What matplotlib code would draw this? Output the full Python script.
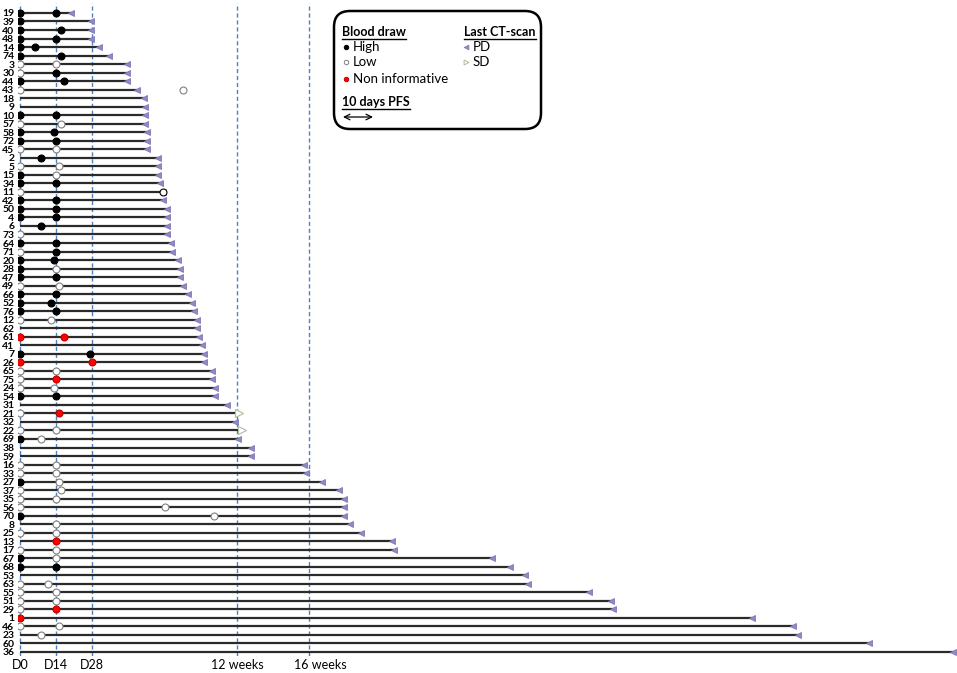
import numpy as np
import matplotlib
matplotlib.use("Agg")
import matplotlib.pyplot as plt
from matplotlib.patches import FancyBboxPatch

plt.rcParams['font.family'] = ['Lato', 'DejaVu Sans']

# patients, top to bottom
patients = [19, 39, 40, 48, 14, 74, 3, 30, 44, 43, 18, 9, 10, 57, 58, 72, 45, 2, 5, 15,
            34, 11, 42, 50, 4, 6, 73, 64, 71, 20, 28, 47, 49, 66, 52, 76, 12, 62, 61, 41,
            7, 26, 65, 75, 24, 54, 31, 21, 32, 22, 69, 38, 59, 16, 33, 27, 37, 35, 56, 70,
            8, 25, 13, 17, 67, 68, 53, 63, 55, 51, 29, 1, 46, 23, 60, 36]

# days until last CT-scan
pfs_days = [19.6, 27.5, 27.5, 27.5, 30.6, 34.5, 41.5, 41.5, 41.5, 45.3, 48, 48.4, 48.4, 48.4,
            49.2, 49.2, 49.2, 53.5, 53.5, 53.5, 54.3, 55.4, 55.4, 57, 57, 57, 57, 58.5, 59,
            61.2, 62, 62, 63.2, 65, 66.7, 67.4, 68.6, 68.6, 69.4, 70.5, 71.3, 71.3, 74.4, 74.4,
            75.6, 75.6, 80.2, 84.9, 83.3, 86, 84.5, 89.5, 89.5, 110, 110.5, 116.7, 123.6,
            125.2, 125.2, 125.2, 127.5, 131.8, 143.8, 144.6, 182.6, 189.5, 195.3, 196.5,
            220, 228.7, 229.5, 283.3, 299.2, 301, 328.3, 361]

ct_status = ['PD'] * len(patients)
ct_status[patients.index(21)] = 'SD'
ct_status[patients.index(22)] = 'SD'

# blood draw at D0: H high, L low, N non informative, '' none
d0_status = ['H', 'H', 'H', 'H', 'H', 'H', 'L', 'L', 'H', 'L', '', '', 'H', 'L', 'H', 'H', 'L', '', 'L', 'H',
             'H', 'L', 'H', 'H', 'H', '', 'L', 'H', 'L', 'H', 'H', 'H', 'L', 'H', 'H', 'H', 'L', '', 'N', '',
             'H', 'N', 'L', 'L', 'L', 'H', '', 'L', '', 'L', 'H', '', '', 'L', 'L', 'H', 'L', 'L', 'L', 'H',
             '', 'L', '', 'L', 'H', 'H', '', 'L', 'L', 'L', 'L', 'N', 'L', '', '', '']

# second blood draw
nan = np.nan
d2_day = [14, nan, 16, 14, 6, 16, 14, 14, 17, 63, nan, nan, 14, 16, 13, 14, 14, 8, 15, 14,
          14, 55.4, 14, 14, 14, 8, nan, 14, 14, 13, 14, 14, 15, 14, 12, 14, 12, nan, 17, nan,
          27, 28, 14, 14, 13, 14, nan, 15, nan, 14, 8, nan, nan, 14, 14, 15, 16, 14, 56, 75,
          14, 14, 14, 14, 14, 14, nan, 11, 14, 14, 14, nan, 15, 8, nan, nan]
d2_status = ['H', '', 'H', 'H', 'H', 'H', 'L', 'H', 'H', 'L', '', '', 'H', 'L', 'H', 'H', 'L', 'H', 'L', 'L',
             'H', 'L', 'H', 'H', 'H', 'H', '', 'H', 'H', 'H', 'L', 'H', 'L', 'H', 'H', 'H', 'L', '', 'N', '',
             'H', 'N', 'L', 'N', 'L', 'H', '', 'N', '', 'L', 'L', '', '', 'L', 'L', 'L', 'L', 'L', 'L', 'L',
             'L', 'L', 'N', 'L', 'L', 'H', '', 'L', 'L', 'L', 'N', '', 'L', 'L', '', '']

ref_days = [0, 14, 28, 84, 112]
tick_pos = [0, 14, 28, 84, 116]
tick_labels = ['D0', 'D14', 'D28', '12 weeks', '16 weeks']

marker_style = {
    'H': dict(color='black', markeredgecolor='black'),
    'L': dict(color='white', markeredgecolor='#808080'),
    'N': dict(color='#ff0000', markeredgecolor='#c00000'),
}

W, H = 957, 673
fig = plt.figure(figsize=(W / 100, H / 100), dpi=100)
ax = fig.add_axes([18 / W, (H - 656) / H, (W - 18) / W, 653 / H])

y = np.arange(len(patients))
ax.hlines(y, 0, pfs_days, color='#2b2b2b', lw=1.6, zorder=2)

for d in ref_days:
    ax.axvline(d, color='#4f81bd', lw=1.0, ls=(0, (3, 2)), zorder=1)

for i in range(len(patients)):
    if ct_status[i] == 'PD':
        ax.plot(pfs_days[i], i, marker='<', ms=5, color='#8f89c4', mec='#7f78b8', mew=0.6, zorder=3)
    else:
        ax.plot(pfs_days[i], i, marker='>', ms=5.5, color='white', mec='#a9bfa0', mew=0.8, zorder=3)
    if d0_status[i]:
        ax.plot(0, i, marker='o', ms=5, mew=0.8, zorder=4, **marker_style[d0_status[i]])
    if d2_status[i]:
        st = dict(marker_style[d2_status[i]])
        if patients[i] == 11:
            st['markeredgecolor'] = 'black'
        ax.plot(d2_day[i], i, marker='o', ms=5, mew=0.8, zorder=4, **st)

ax.set_xlim(-0.77, 362.5)
ax.set_ylim(75.47, -1.17)
ax.set_yticks(y)
ax.set_yticklabels([str(p) for p in patients], fontsize=7.5, fontweight='bold')
ax.set_xticks(tick_pos)
ax.set_xticklabels(tick_labels, fontsize=9)
ax.tick_params(axis='y', length=0, pad=2.5)
ax.tick_params(axis='x', length=0, pad=2)
for s in ax.spines.values():
    s.set_visible(False)

# legend box drawn in pixel coordinates
lg = fig.add_axes([0, 0, 1, 1], facecolor='none')
lg.set_xlim(0, W)
lg.set_ylim(H, 0)
lg.axis('off')
lg.add_patch(FancyBboxPatch((334, 11), 207, 118, boxstyle='round,pad=0,rounding_size=16',
                            lw=1.8, ec='black', fc='white', zorder=5))

heads = []
heads.append(lg.text(342, 32, 'Blood draw', fontsize=9, fontweight='bold', va='center', zorder=6))
heads.append(lg.text(464, 32, 'Last CT-scan', fontsize=9, fontweight='bold', va='center', zorder=6))
heads.append(lg.text(342, 102, '10 days PFS', fontsize=9, fontweight='bold', va='center', zorder=6))

leg_items = [('H', 'High', 47), ('L', 'Low', 62), ('N', 'Non informative', 79)]
for key, lab, yy in leg_items:
    lg.plot(346, yy, marker='o', ms=3.2, mew=0.7, zorder=6, **marker_style[key])
    lg.text(353, yy, lab, fontsize=9.5, va='center', zorder=6)

lg.plot(466, 47, marker='<', ms=3.5, color='#8f89c4', mec='#7f78b8', mew=0.5, zorder=6)
lg.text(473, 47, 'PD', fontsize=9.5, va='center', zorder=6)
lg.plot(466, 62, marker='>', ms=3.5, color='white', mec='#a9bfa0', mew=0.7, zorder=6)
lg.text(473, 62, 'SD', fontsize=9.5, va='center', zorder=6)

lg.annotate('', xy=(373, 117), xytext=(343, 117),
            arrowprops=dict(arrowstyle='<->', lw=0.9, color='black', shrinkA=0, shrinkB=0), zorder=6)

# underline the headings
fig.canvas.draw()
inv = lg.transData.inverted()
for t in heads:
    bb = t.get_window_extent()
    (x0, y0), (x1, _) = inv.transform([[bb.x0, bb.y0], [bb.x1, bb.y1]])
    lg.plot([x0, x1], [y0 + 0.5, y0 + 0.5], color='black', lw=1.0, zorder=6)

fig.savefig('out.png', dpi=100)
